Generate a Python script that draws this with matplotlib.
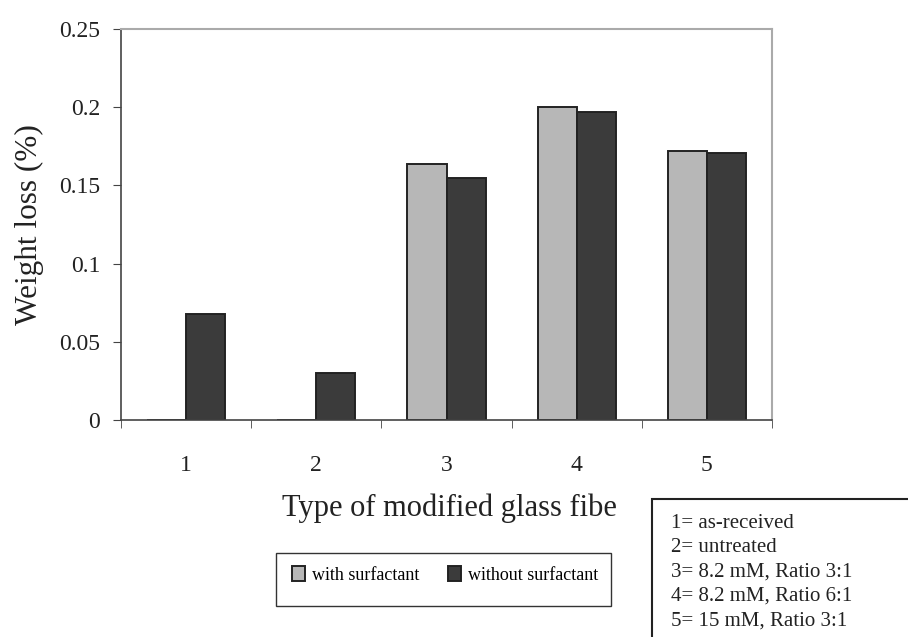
import numpy as np
import matplotlib
matplotlib.use('Agg')
import matplotlib.pyplot as plt
from matplotlib.patches import Rectangle

# Data
categories = ['1', '2', '3', '4', '5']
with_surfactant = [0.0, 0.0, 0.164, 0.200, 0.172]
without_surfactant = [0.068, 0.030, 0.155, 0.197, 0.171]
y_ticks = [0, 0.05, 0.1, 0.15, 0.2, 0.25]
y_tick_labels = ['0', '0.05', '0.1', '0.15', '0.2', '0.25']
key_lines = ['1= as-received', '2= untreated', '3= 8.2 mM, Ratio 3:1',
             '4= 8.2 mM, Ratio 6:1', '5= 15 mM, Ratio 3:1']

plt.rcParams['font.family'] = ['Liberation Serif', 'DejaVu Serif']

W, H = 908, 637
fig = plt.figure(figsize=(W / 100, H / 100), dpi=100)
# plot area in pixels: x 121..772, y 29..420
ax = fig.add_axes([121 / W, 1 - 420 / H, (772 - 121) / W, (420 - 29) / H])

x = np.arange(len(categories))
largura = 0.3
ax.bar(x - largura / 2, with_surfactant, largura, color='#b7b7b7',
       edgecolor='#222222', linewidth=1.4, label='with surfactant')
ax.bar(x + largura / 2, without_surfactant, largura, color='#3b3b3b',
       edgecolor='#222222', linewidth=1.4, label='without surfactant')

ax.set_xlim(-0.5, len(categories) - 0.5)
ax.set_ylim(0, 0.25)
ax.set_yticks(y_ticks)
ax.set_yticklabels(y_tick_labels, fontsize=17, color='#222222')
ax.set_xticks(x)
ax.set_xticklabels(categories, fontsize=17, color='#222222')
ax.set_xticks(np.arange(-0.5, len(categories)), minor=True)
ax.tick_params(axis='x', which='major', length=0, pad=25)
ax.tick_params(axis='x', which='minor', length=6, direction='out', color='#444444')
ax.tick_params(axis='y', length=6, direction='out', color='#444444', pad=9)

for lado in ['left', 'bottom']:
    ax.spines[lado].set_color('#444444')
    ax.spines[lado].set_linewidth(1.2)
for lado in ['top', 'right']:
    ax.spines[lado].set_color('#aaaaaa')
    ax.spines[lado].set_linewidth(1.5)

ax.set_ylabel('Weight loss (%)', fontsize=22.5, color='#222222', labelpad=11)

fig.text(449 / W, 1 - 508 / H, 'Type of modified glass fibe', fontsize=22,
         color='#222222', ha='center', va='center')

# legend: frame drawn by hand, entries by the legend
fig.patches.append(Rectangle((276 / W, 1 - 606 / H), 335 / W, 53 / H,
                             transform=fig.transFigure, fill=False,
                             edgecolor='#333333', linewidth=1.0))
leg = ax.legend(loc='center left', bbox_to_anchor=(283 / W, 1 - 575 / H),
                bbox_transform=fig.transFigure, ncol=2, frameon=False,
                handlelength=0.7, handleheight=0.9, handletextpad=0.4,
                columnspacing=1.6, borderpad=0,
                prop={'family': 'Liberation Serif', 'size': 13})

# key box on the right
fig.patches.append(Rectangle((652 / W, -0.05), 0.5, 1 - 499 / H + 0.05,
                             transform=fig.transFigure, fill=False,
                             edgecolor='#222222', linewidth=1.5))
for i, linha in enumerate(key_lines):
    fig.text(671 / W, 1 - (523 + i * 24.5) / H, linha, fontsize=15,
             color='#222222', ha='left', va='center')

fig.savefig('out.png', dpi=100)
